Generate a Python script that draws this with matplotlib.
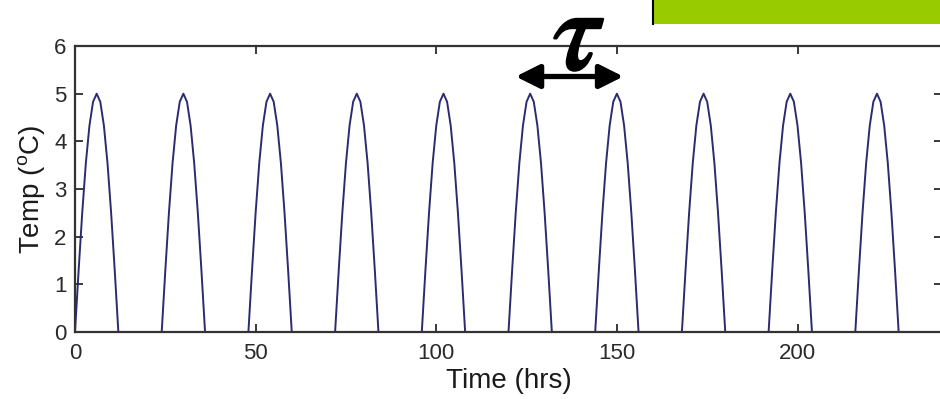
import matplotlib
matplotlib.use("Agg")
import matplotlib.pyplot as plt
import matplotlib.patheffects as pe
from matplotlib.patches import Rectangle

# Hourly temperature over one day (12 h daytime pulse, peak 5 degC)
day_profile = [0.0, 1.29, 2.5, 3.54, 4.33, 4.83, 5.0, 4.83, 4.33, 3.54, 2.5, 1.29, 0.0,
               0.0, 0.0, 0.0, 0.0, 0.0, 0.0, 0.0, 0.0, 0.0, 0.0, 0.0]
n_days = 10
temps = day_profile * n_days + [0.0]
hours = list(range(len(temps)))

xticks = [0, 50, 100, 150, 200]
yticks = [0, 1, 2, 3, 4, 5, 6]

plt.rcParams['font.family'] = ['Liberation Sans', 'DejaVu Sans']
plt.rcParams['mathtext.fontset'] = 'stix'
fig = plt.figure(figsize=(9.4, 3.99), dpi=100)
ax = fig.add_axes([75/940, 67/399, 867/940, 286/399])

ax.plot(hours, temps, color='#2b2b72', lw=1.4, clip_on=False)
ax.set_xlim(0, 240)
ax.set_ylim(0, 6)
ax.set_xticks(xticks)
ax.set_yticks(yticks)
ax.tick_params(direction='in', top=True, right=True, length=6, width=1.3,
               labelsize=16, colors='#2a2a2a')
ax.tick_params(axis='x', pad=8)
ax.tick_params(axis='y', pad=6)
for s in ax.spines.values():
    s.set_linewidth(1.6)
    s.set_color('#333333')
ax.set_xlabel('Time (hrs)', fontsize=20, labelpad=3, color='#1a1a1a')
ax.set_ylabel('Temp ($\\mathregular{^o}$C)', fontsize=20, labelpad=5, color='#1a1a1a')

# tau annotation with double arrow
ax.annotate('', xy=(151.8, 5.36), xytext=(122.0, 5.36),
            arrowprops=dict(arrowstyle='<|-|>', lw=3.8, color='black',
                            mutation_scale=36, shrinkA=0, shrinkB=0),
            annotation_clip=False)
ax.text(139.5, 6.15, r'$\tau$', fontsize=84, ha='center', va='center',
        clip_on=False,
        path_effects=[pe.withStroke(linewidth=2.0, foreground='black')])

# green box at top right
fig.patches.append(Rectangle((653/940, 1-24/399), 1-653/940, 24/399,
                             transform=fig.transFigure, facecolor='#99cc00',
                             edgecolor='none'))
fig.lines.append(plt.Line2D([653/940, 653/940], [1-24/399, 1],
                            transform=fig.transFigure, color='black', lw=1.5))

fig.savefig('out.png', dpi=100)
